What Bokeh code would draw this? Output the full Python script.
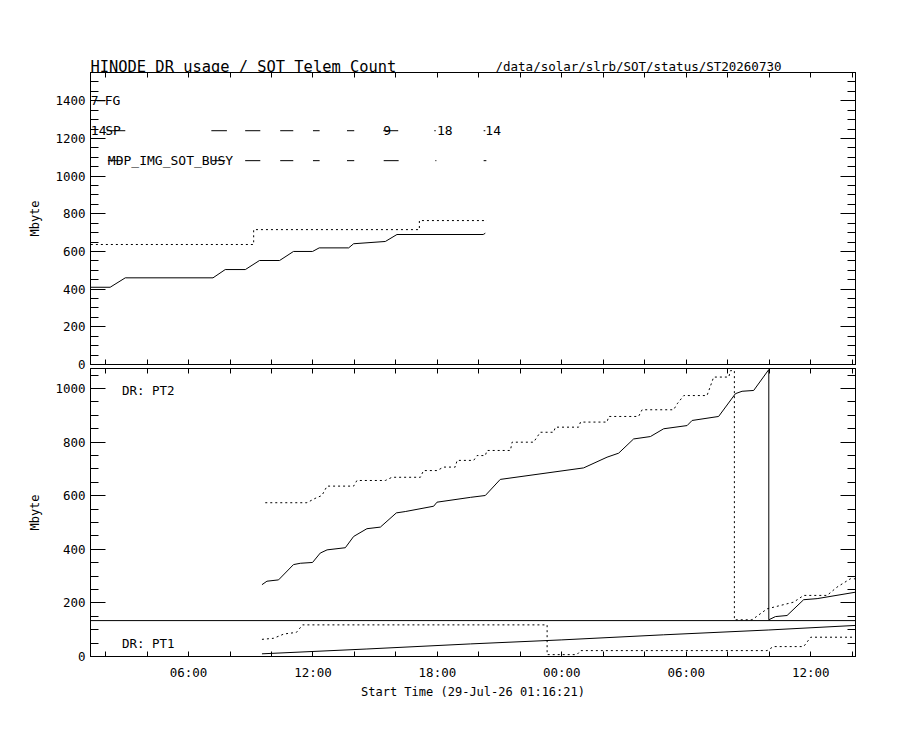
from bokeh.plotting import figure
from bokeh.layouts import column
from bokeh.models import LinearAxis, FixedTicker, SingleIntervalTicker, Span
from bokeh.embed import file_html
from bokeh.resources import INLINE
from bokeh.core.properties import value

# ---------------- data (hours from 29-Jul-26 00:00) ----------------
T_START = 1.2725          # 01:16:21
T_END = 38.16

X_MAJOR = [6, 12, 18, 24, 30, 36]
X_MAJOR_LABELS = ["06:00", "12:00", "18:00", "00:00", "06:00", "12:00"]
X_MINOR = [2, 4, 8, 10, 14, 16, 20, 22, 26, 28, 32, 34, 38]

TOP_YMAX = 1550
BOT_YMAX = 1075
PT_SPLIT = 134

TITLE = "HINODE DR usage / SOT Telem Count"
PATH = "/data/solar/slrb/SOT/status/ST20260730"
X_TITLE = "Start Time (29-Jul-26 01:16:21)"

# top panel: SOT telemetry count (solid) and limit (dotted)
TOP_T_SOLID = [1.29, 2.22, 2.95, 7.18, 7.77, 8.74, 9.42, 10.39, 11.06, 11.98, 12.30,
               13.72, 13.96, 15.49, 16.05, 20.21, 20.31]
TOP_V_SOLID = [410, 410, 460, 460, 504, 504, 552, 552, 600, 600, 619,
               619, 641, 653, 690, 690, 697]
TOP_T_DOT = [1.29, 9.14, 9.14, 17.13, 17.13, 20.39]
TOP_V_DOT = [637, 637, 716, 716, 764, 764]

# top panel timeline rows
ROW_NAMES = ["FG", "SP", "MDP_IMG_SOT_BUSY"]
ROW_LEVEL = [1400, 1241, 1082]
ROW_NAME_T = [1.96, 1.98, 2.11]
COUNT_TEXT = ["7", "14", "9", "18", "14"]
COUNT_T = [1.29, 1.29, 15.39, 17.98, 20.31]
COUNT_LEVEL = [1400, 1241, 1241, 1241, 1241]
FG_SEG_START = [1.58]
FG_SEG_END = [1.98]
SP_SEG_START = [2.06, 7.10, 8.73, 10.42, 12.00, 13.64, 15.39, 17.85, 20.23]
SP_SEG_END = [2.95, 7.85, 9.46, 11.05, 12.32, 13.99, 16.11, 17.92, 20.31]
MDP_SEG_START = [2.11, 7.13, 8.73, 10.42, 12.00, 13.64, 15.41, 17.90, 20.23]
MDP_SEG_END = [2.79, 7.77, 9.46, 11.05, 12.32, 13.99, 16.13, 17.95, 20.36]

# bottom panel: DR PT2
PT2_T = [9.54, 9.78, 10.34, 11.06, 11.39, 11.98, 12.35, 12.68, 13.56, 13.96,
         14.60, 15.25, 16.02, 16.45, 17.82, 17.98, 19.59, 20.31, 21.03, 25.05,
         26.18, 26.74, 27.46, 28.27, 28.91, 30.04, 30.28, 31.56, 32.37, 32.69,
         33.25, 33.98, 33.98, 34.30, 34.86, 35.66, 36.31, 38.16]
PT2_V = [268, 281, 286, 343, 348, 351, 386, 398, 406, 448,
         477, 483, 536, 541, 561, 576, 594, 601, 661, 704,
         744, 759, 812, 821, 850, 862, 881, 896, 981, 990,
         993, 1071, 137, 149, 153, 212, 216, 240]
PT2D_T = [9.70, 11.71, 12.10, 12.43, 12.68, 13.96, 14.12, 15.49, 15.81, 17.18,
          17.33, 17.98, 18.30, 18.86, 18.95, 19.75, 19.91, 20.31, 20.39, 21.52,
          21.60, 22.64, 22.96, 23.60, 23.69, 24.81, 24.90, 26.18, 26.26, 27.70,
          27.87, 29.39, 29.56, 29.88, 31.00, 31.16, 31.32, 32.05, 32.13, 32.32,
          32.32, 33.17, 33.90, 35.18, 35.66, 36.79, 37.27, 37.91, 38.16]
PT2D_V = [574, 574, 590, 601, 636, 636, 657, 657, 669, 669,
          694, 694, 707, 707, 732, 732, 750, 750, 769, 769,
          800, 800, 837, 837, 856, 856, 875, 875, 896, 896,
          921, 921, 943, 974, 974, 1008, 1043, 1043, 1067, 1067,
          137, 137, 178, 203, 228, 228, 259, 290, 290]

# bottom panel: DR PT1
PT1_T = [9.54, 14.60, 19.59, 24.00, 28.91, 33.98, 38.16]
PT1_V = [10, 28, 47, 62, 81, 99, 116]
PT1D_T = [9.54, 10.10, 10.60, 11.20, 11.50, 23.29, 23.29, 24.73, 24.90, 33.90,
          34.20, 35.66, 36.00, 38.16]
PT1D_V = [64, 68, 84, 90, 118, 118, 7, 7, 22, 22,
          37, 37, 72, 72]

FONT = "DejaVu Sans Mono"
DOT = "2 3"
W = 892
LEFT = 90
RIGHT = 37
HEAD_H = 80


def base_fig(height, ymax, top_border, bottom_border):
    p = figure(width=W, height=height, x_range=(T_START, T_END), y_range=(0, ymax),
               output_backend="svg", toolbar_location=None,
               x_axis_type=None, y_axis_type=None,
               min_border_left=LEFT, min_border_right=RIGHT,
               min_border_top=top_border, min_border_bottom=bottom_border)
    p.outline_line_color = "black"
    p.outline_line_width = 1
    p.background_fill_color = "white"
    p.border_fill_color = "white"
    p.border_fill_alpha = 0
    return p


def hide_labels(ax):
    ax.major_label_text_color = None
    ax.major_label_text_font_size = "1px"
    ax.major_label_standoff = 0


def add_x_axis(p, place, labels):
    ax = LinearAxis(ticker=FixedTicker(ticks=X_MAJOR, minor_ticks=X_MINOR))
    ax.major_tick_in = 5
    ax.major_tick_out = 0
    ax.minor_tick_in = 5
    ax.minor_tick_out = 0
    ax.axis_line_color = "black"
    ax.major_tick_line_color = "black"
    ax.minor_tick_line_color = "black"
    if labels:
        ax.major_label_overrides = {t: l for t, l in zip(X_MAJOR, X_MAJOR_LABELS)}
        ax.major_label_text_font = FONT
        ax.major_label_text_font_size = "12.5px"
        ax.major_label_text_color = "black"
        ax.major_label_standoff = 8
        ax.axis_label = X_TITLE
        ax.axis_label_text_font = FONT
        ax.axis_label_text_font_size = "12px"
        ax.axis_label_text_font_style = "normal"
        ax.axis_label_text_color = "black"
        ax.axis_label_standoff = 2
    else:
        hide_labels(ax)
    p.add_layout(ax, place)


def add_y_axis(p, place, labels):
    ax = LinearAxis(ticker=SingleIntervalTicker(interval=200, num_minor_ticks=4))
    ax.major_tick_in = 15
    ax.major_tick_out = 0
    ax.minor_tick_in = 8
    ax.minor_tick_out = 0
    ax.axis_line_color = "black"
    ax.major_tick_line_color = "black"
    ax.minor_tick_line_color = "black"
    if labels:
        ax.major_label_text_font = FONT
        ax.major_label_text_font_size = "12.5px"
        ax.major_label_text_color = "black"
        ax.major_label_standoff = 5
        ax.axis_label = "Mbyte"
        ax.axis_label_text_font = FONT
        ax.axis_label_text_font_size = "12px"
        ax.axis_label_text_font_style = "normal"
        ax.axis_label_text_color = "black"
        ax.axis_label_standoff = 10
    else:
        hide_labels(ax)
    p.add_layout(ax, place)


# ---------------- header strip with the titles ----------------
p0 = figure(width=W, height=HEAD_H, x_range=(T_START, T_END), y_range=(0, HEAD_H),
            output_backend="svg", toolbar_location=None,
            x_axis_type=None, y_axis_type=None,
            min_border_left=LEFT, min_border_right=RIGHT, min_border_top=0, min_border_bottom=0)
p0.outline_line_color = None
p0.background_fill_alpha = 0
p0.border_fill_alpha = 0
p0.text(x=[T_START], y=[HEAD_H - 66.7], text=[TITLE], text_font=value(FONT),
        text_font_size=value("15.4px"), text_color="black", text_baseline="alphabetic")
p0.text(x=[T_START], y=[HEAD_H - 66.3], x_offset=405, text=[PATH], text_font=value(FONT),
        text_font_size=value("12.5px"), text_color="black", text_baseline="alphabetic")

# ---------------- top panel ----------------
p1 = base_fig(2 + 292 + 12, TOP_YMAX, 2, 12)
p1.styles = {"margin-top": "-10px"}   # canvas starts at y=70, frame at 72
add_y_axis(p1, "left", True)
add_y_axis(p1, "right", False)
add_x_axis(p1, "below", False)
add_x_axis(p1, "above", False)

p1.line(TOP_T_SOLID, TOP_V_SOLID, line_color="black", line_width=1)
p1.line(TOP_T_DOT, TOP_V_DOT, line_color="black", line_width=1, line_dash=DOT)

p1.segment(x0=FG_SEG_START, y0=[ROW_LEVEL[0]] * len(FG_SEG_START),
           x1=FG_SEG_END, y1=[ROW_LEVEL[0]] * len(FG_SEG_END), line_color="black", line_width=1)
p1.segment(x0=SP_SEG_START, y0=[ROW_LEVEL[1]] * len(SP_SEG_START),
           x1=SP_SEG_END, y1=[ROW_LEVEL[1]] * len(SP_SEG_END), line_color="black", line_width=1)
p1.segment(x0=MDP_SEG_START, y0=[ROW_LEVEL[2]] * len(MDP_SEG_START),
           x1=MDP_SEG_END, y1=[ROW_LEVEL[2]] * len(MDP_SEG_END), line_color="black", line_width=1)

p1.text(x=ROW_NAME_T, y=ROW_LEVEL, text=ROW_NAMES, text_font=value(FONT),
        text_font_size=value("13px"), text_color="black", text_baseline="alphabetic")
p1.text(x=COUNT_T, y=COUNT_LEVEL, text=COUNT_TEXT, text_font=value(FONT),
        text_font_size=value("13px"), text_color="black", text_baseline="alphabetic")

# ---------------- bottom panel ----------------
p2 = base_fig(8 + 288 + 60, BOT_YMAX, 8, 60)
p2.styles = {"margin-top": "-16px"}
add_y_axis(p2, "left", True)
add_y_axis(p2, "right", False)
add_x_axis(p2, "below", True)
add_x_axis(p2, "above", False)

p2.add_layout(Span(location=PT_SPLIT, dimension="width", line_color="black", line_width=1))

p2.line(PT2_T, PT2_V, line_color="black", line_width=1)
p2.line(PT2D_T, PT2D_V, line_color="black", line_width=1, line_dash=DOT)
p2.line(PT1_T, PT1_V, line_color="black", line_width=1)
p2.line(PT1D_T, PT1D_V, line_color="black", line_width=1, line_dash=DOT)

p2.text(x=[2.79, 2.79], y=[993, 50], text=["DR: PT2", "DR: PT1"], text_font=value(FONT),
        text_font_size=value("12.5px"), text_color="black", text_baseline="alphabetic")

layout = column(p0, p1, p2, spacing=0)
open("out.html", "w").write(file_html(layout, INLINE))
